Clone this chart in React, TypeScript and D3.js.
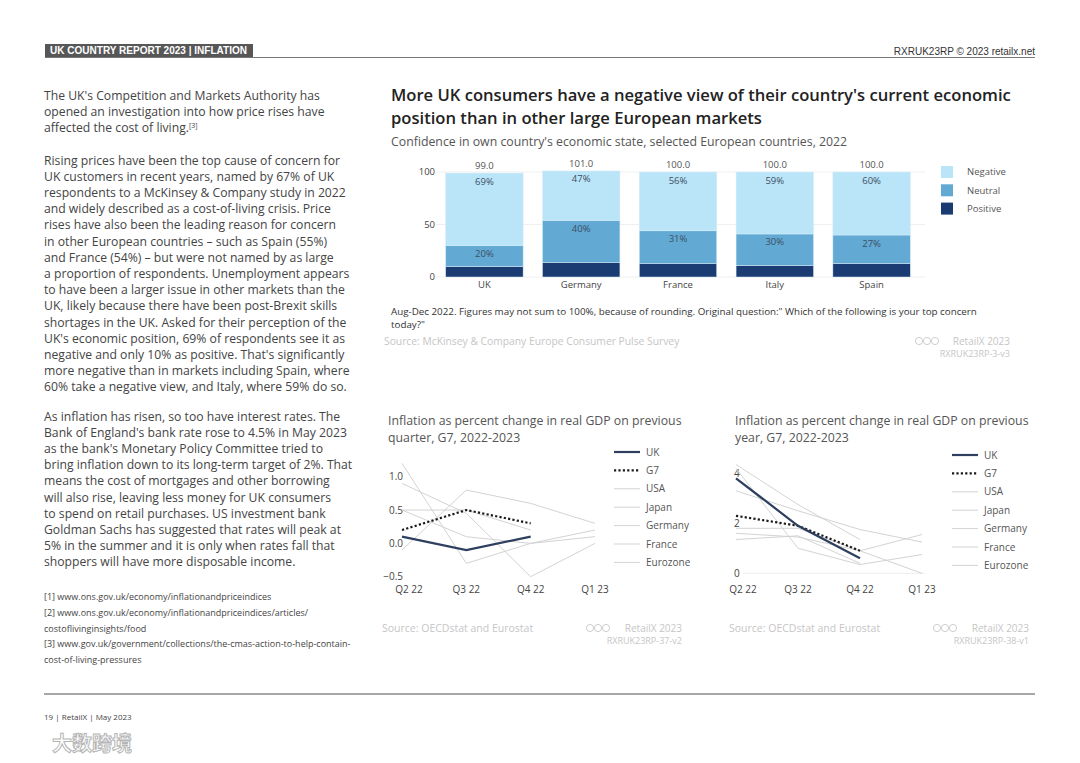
import React from 'react';
import * as d3 from 'd3';

const FONT = "'Open Sans', sans-serif";
const NARROW = "'Liberation Sans Narrow', 'Liberation Sans', sans-serif";

// bar chart: confidence in own country's economic state
const countries = ['UK', 'Germany', 'France', 'Italy', 'Spain'];
const positiveShare = [10, 14, 13, 11, 13];
const neutralShare = [20, 40, 31, 30, 27];
const negativeShare = [69, 47, 56, 59, 60];
const totalShare = [99.0, 101.0, 100.0, 100.0, 100.0];
const barTicks = [0, 50, 100];
const barKeys = ['positive', 'neutral', 'negative'];
const barColors: Record<string, string> = { negative: '#bae4f7', neutral: '#62a9d4', positive: '#1b3c72' };
const barLegend = ['Negative', 'Neutral', 'Positive'];

// line charts
const quarters = ['Q2 22', 'Q3 22', 'Q4 22', 'Q1 23'];
const legendNames = ['UK', 'G7', 'USA', 'Japan', 'Germany', 'France', 'Eurozone'];

// change on previous quarter
const qoqUK = [0.1, -0.1, 0.1, null];
const qoqG7 = [0.2, 0.5, 0.3, null];
const qoqUSA = [-0.1, 0.8, 0.6, 0.3];
const qoqJapan = [1.2, -0.3, 0.0, 0.2];
const qoqGermany = [0.9, 0.45, -0.5, 0.0];
const qoqFrance = [0.5, 0.1, 0.0, 0.1];
const qoqEurozone = [0.5, 0.5, 0.2, null];
const qoqTicks = [-0.5, 0, 0.5, 1.0];

// change on previous year
const yoyUK = [3.8, 1.9, 0.6, null];
const yoyG7 = [2.3, 1.9, 0.9, null];
const yoyUSA = [1.8, 1.8, 0.9, 1.55];
const yoyJapan = [1.35, 1.5, 0.4, null];
const yoyGermany = [1.6, 1.45, 0.9, 0.0];
const yoyFrance = [4.2, 1.0, 0.35, 0.75];
const yoyEurozone = [3.3, 2.5, 1.75, 1.25];
const yoyOther = [4.35, 2.75, 1.35, null];
const yoyTicks = [0, 2, 4];

const para1 = [
  "The UK's Competition and Markets Authority has",
  'opened an investigation into how price rises have',
];
const para2 = [
  'Rising prices have been the top cause of concern for',
  'UK customers in recent years, named by 67% of UK',
  'respondents to a McKinsey & Company study in 2022',
  'and widely described as a cost-of-living crisis. Price',
  'rises have also been the leading reason for concern',
  'in other European countries – such as Spain (55%)',
  'and France (54%) – but were not named by as large',
  'a proportion of respondents. Unemployment appears',
  'to have been a larger issue in other markets than the',
  'UK, likely because there have been post-Brexit skills',
  'shortages in the UK. Asked for their perception of the',
  "UK's economic position, 69% of respondents see it as",
  "negative and only 10% as positive. That's significantly",
  'more negative than in markets including Spain, where',
  '60% take a negative view, and Italy, where 59% do so.',
];
const para3 = [
  'As inflation has risen, so too have interest rates. The',
  "Bank of England's bank rate rose to 4.5% in May 2023",
  "as the bank's Monetary Policy Committee tried to",
  'bring inflation down to its long-term target of 2%. That',
  'means the cost of mortgages and other borrowing',
  'will also rise, leaving less money for UK consumers',
  'to spend on retail purchases. US investment bank',
  'Goldman Sachs has suggested that rates will peak at',
  '5% in the summer and it is only when rates fall that',
  'shoppers will have more disposable income.',
];
const footnotes = [
  '[1] www.ons.gov.uk/economy/inflationandpriceindices',
  '[2] www.ons.gov.uk/economy/inflationandpriceindices/articles/',
  'costoflivinginsights/food',
  '[3] www.gov.uk/government/collections/the-cmas-action-to-help-contain-',
  'cost-of-living-pressures',
];

type Series = { name: string; values: (number | null)[] };

function CcIcons({ x, y }: { x: number; y: number }) {
  return (
    <g fill="none" stroke="#c8c8c8" strokeWidth={0.9}>
      {[0, 1, 2].map(i => (
        <circle key={i} cx={x + i * 8} cy={y} r={3.6} />
      ))}
    </g>
  );
}

function LineChart(props: {
  title: string[];
  titleX: number;
  series: Series[];
  uk: (number | null)[];
  g7: (number | null)[];
  xRange: [number, number];
  yDomain: [number, number];
  yRange: [number, number];
  ticks: number[];
  tickFmt: (v: number) => string;
  tickX: number;
  tickAnchor: 'start' | 'end';
  zeroLine: boolean;
  legendX: number;
  legendY: number;
  sourceX: number;
  creditX: number;
  code: string;
}) {
  const x = d3.scalePoint<string>().domain(quarters).range(props.xRange);
  const y = d3.scaleLinear().domain(props.yDomain).range(props.yRange);
  const line = d3
    .line<number | null>()
    .defined(d => d != null)
    .x((_, i) => x(quarters[i]) as number)
    .y(d => y(d as number));
  const left = props.xRange[0];
  return (
    <g fontFamily={FONT}>
      {props.title.map((t, i) => (
        <text key={i} x={props.titleX} y={425 + i * 17} fontSize={12.3} fill="#555">{t}</text>
      ))}
      {props.zeroLine && (
        <line x1={left + 7} x2={props.xRange[1] + 3} y1={y(0)} y2={y(0)} stroke="#eeeeee" />
      )}
      {props.ticks.map(t => (
        <text key={t} x={props.tickX} y={y(t)} dy="0.35em" fontSize={10} fill="#444" textAnchor={props.tickAnchor}>
          {props.tickFmt(t)}
        </text>
      ))}
      {quarters.map(q => (
        <text key={q} x={Math.max(x(q) as number, left + 7)} y={593} fontSize={10} fill="#444" textAnchor="middle">{q}</text>
      ))}
      {props.series.map(s => (
        <path key={s.name} d={line(s.values) || ''} fill="none" stroke="#d3d3d3" strokeWidth={1} />
      ))}
      <path d={line(props.g7) || ''} fill="none" stroke="#1a1a1a" strokeWidth={2.2} strokeDasharray="2.2 2.2" />
      <path d={line(props.uk) || ''} fill="none" stroke="#2e3f5f" strokeWidth={2.2} />
      {legendNames.map((n, i) => {
        const ly = props.legendY + i * 18.4;
        const style = i === 0
          ? { stroke: '#2e3f5f', strokeWidth: 2.2 }
          : i === 1
            ? { stroke: '#1a1a1a', strokeWidth: 2.2, strokeDasharray: '2.2 2.2' }
            : { stroke: '#d3d3d3', strokeWidth: 1 };
        return (
          <g key={n}>
            <line x1={props.legendX} x2={props.legendX + 26} y1={ly} y2={ly} {...style} />
            <text x={props.legendX + 32} y={ly} dy="0.35em" fontSize={10} fill="#555">{n}</text>
          </g>
        );
      })}
      <text x={props.sourceX} y={632} fontSize={10.5} fill="#c6c6c6">Source: OECDstat and Eurostat</text>
      <CcIcons x={props.creditX - 92} y={628} />
      <text x={props.creditX} y={632} fontSize={10} fill="#c6c6c6" textAnchor="end">RetailX 2023</text>
      <text x={props.creditX} y={644} fontSize={9} fill="#c6c6c6" textAnchor="end">{props.code}</text>
    </g>
  );
}

function BarChart() {
  const x = d3.scaleBand<string>().domain(countries).range([436, 920]).paddingInner(0.2).paddingOuter(0.1);
  const y = d3.scaleLinear().domain([0, 100]).range([277, 172]);
  const rows = countries.map((c, i) => ({
    country: c,
    positive: positiveShare[i],
    neutral: neutralShare[i],
    negative: negativeShare[i],
  }));
  const stacked = d3.stack<any>().keys(barKeys)(rows);
  return (
    <g fontFamily={FONT}>
      {barTicks.map(t => (
        <g key={t}>
          <line x1={436} x2={925} y1={y(t)} y2={y(t)} stroke="#efefef" />
          <text x={435} y={y(t)} dy="0.35em" fontSize={9.5} fill="#444" textAnchor="end">{t}</text>
        </g>
      ))}
      {stacked.map(layer => (
        <g key={layer.key} fill={barColors[layer.key]}>
          {layer.map((d, i) => (
            <rect
              key={i}
              x={x(countries[i])}
              width={x.bandwidth()}
              y={y(d[1])}
              height={y(d[0]) - y(d[1])}
              stroke="#d6edf9"
              strokeWidth={0.5}
            />
          ))}
        </g>
      ))}
      {stacked.filter(l => l.key !== 'positive').map(layer => (
        <g key={layer.key + 'lbl'}>
          {layer.map((d, i) => (
            <text key={i} x={(x(countries[i]) as number) + x.bandwidth() / 2} y={y(d[1]) + 11.5}
              fontSize={9.5} fill="#3d4f63" textAnchor="middle">
              {`${d[1] - d[0]}%`}
            </text>
          ))}
        </g>
      ))}
      {countries.map((c, i) => (
        <g key={c}>
          <text x={(x(c) as number) + x.bandwidth() / 2} y={y(totalShare[i]) - 4} fontSize={9.5} fill="#555" textAnchor="middle">
            {totalShare[i].toFixed(1)}
          </text>
          <text x={(x(c) as number) + x.bandwidth() / 2} y={288} fontSize={9.5} fill="#444" textAnchor="middle">{c}</text>
        </g>
      ))}
      {barLegend.map((n, i) => (
        <g key={n}>
          <rect x={941} y={166 + i * 18.3} width={12} height={12} fill={barColors[n.toLowerCase()]} />
          <text x={967} y={172 + i * 18.3} dy="0.35em" fontSize={9.5} fill="#555">{n}</text>
        </g>
      ))}
    </g>
  );
}

export default function App() {
  const qoqSeries: Series[] = [
    { name: 'USA', values: qoqUSA },
    { name: 'Japan', values: qoqJapan },
    { name: 'Germany', values: qoqGermany },
    { name: 'France', values: qoqFrance },
    { name: 'Eurozone', values: qoqEurozone },
  ];
  const yoySeries: Series[] = [
    { name: 'USA', values: yoyUSA },
    { name: 'Japan', values: yoyJapan },
    { name: 'Germany', values: yoyGermany },
    { name: 'France', values: yoyFrance },
    { name: 'Eurozone', values: yoyEurozone },
    { name: 'Other', values: yoyOther },
  ];
  const lh = 16.2;
  return (
    <div style={{ position: 'absolute', left: 0, top: 0 }}>
      <svg width={1080} height={763} style={{ display: 'block', background: '#fff' }}>
        {/* header */}
        <rect x={45} y={44} width={208} height={13} fill="#575757" />
        <text x={50} y={54.3} fontFamily={NARROW} fontWeight={700} fontSize={10.5} fill="#fff" textLength={197} lengthAdjust="spacingAndGlyphs">
          UK COUNTRY REPORT 2023 | INFLATION
        </text>
        <line x1={45} x2={1035} y1={57.5} y2={57.5} stroke="#777" strokeWidth={1} />
        <text x={1035} y={54.5} fontFamily={NARROW} fontSize={10} fill="#333" textAnchor="end">RXRUK23RP © 2023 retailx.net</text>

        {/* left column */}
        <g fontFamily={FONT} fontSize={12.2} fill="#444">
          {para1.map((l, i) => (
            <text key={i} x={44} y={100 + i * lh}>{l}</text>
          ))}
          <text x={44} y={100 + 2 * lh}>
            affected the cost of living.<tspan fontSize={7} dy={-4.5}>[3]</tspan>
          </text>
          {para2.map((l, i) => (
            <text key={i} x={44} y={164.5 + i * lh}>{l}</text>
          ))}
          {para3.map((l, i) => (
            <text key={i} x={44} y={420.5 + i * lh}>{l}</text>
          ))}
        </g>
        <g fontFamily={FONT} fontSize={9} fill="#444">
          {footnotes.map((l, i) => (
            <text key={i} x={44} y={600 + i * 15.8}>{l}</text>
          ))}
        </g>
        <line x1={44} x2={1035} y1={694} y2={694} stroke="#8a8a8a" strokeWidth={1.5} />
        <text x={44} y={720} fontFamily={FONT} fontSize={8} fill="#444">19 | RetailX | May 2023</text>
        <text x={52} y={751} fontFamily="'Noto Sans CJK SC', sans-serif" fontWeight={700} fontSize={20} fill="#fff" stroke="#b5b5b5" strokeWidth={1}>
          大数跨境
        </text>

        {/* bar chart */}
        <g fontFamily={FONT}>
          <text x={391} y={101} fontSize={16.6} fontWeight={600} fill="#222">
            More UK consumers have a negative view of their country's current economic
          </text>
          <text x={391} y={124} fontSize={16.6} fontWeight={600} fill="#222">
            position than in other large European markets
          </text>
          <text x={391} y={146} fontSize={12.3} fill="#555">
            Confidence in own country's economic state, selected European countries, 2022
          </text>
        </g>
        <BarChart />
        <g fontFamily={FONT}>
          <text x={391} y={315} fontSize={9.8} fill="#333">
            Aug-Dec 2022. Figures may not sum to 100%, because of rounding. Original question:" Which of the following is your top concern
          </text>
          <text x={391} y={328} fontSize={9.8} fill="#333">today?"</text>
          <text x={384} y={345} fontSize={10.3} fill="#c6c6c6">Source: McKinsey &amp; Company Europe Consumer Pulse Survey</text>
          <CcIcons x={919} y={341} />
          <text x={1010} y={345} fontSize={10} fill="#c6c6c6" textAnchor="end">RetailX 2023</text>
          <text x={1010} y={357} fontSize={9} fill="#c6c6c6" textAnchor="end">RXRUK23RP-3-v3</text>
        </g>

        <LineChart
          title={['Inflation as percent change in real GDP on previous', 'quarter, G7, 2022-2023']}
          titleX={388}
          series={qoqSeries}
          uk={qoqUK}
          g7={qoqG7}
          xRange={[402, 595]}
          yDomain={[-0.5, 1.0]}
          yRange={[576.7, 476.7]}
          ticks={qoqTicks}
          tickFmt={v => (v < 0 ? '−' : '') + Math.abs(v).toFixed(1)}
          tickX={403}
          tickAnchor="end"
          zeroLine={false}
          legendX={614}
          legendY={452}
          sourceX={382}
          creditX={682}
          code="RXRUK23RP-37-v2"
        />
        <LineChart
          title={['Inflation as percent change in real GDP on previous', 'year, G7, 2022-2023']}
          titleX={735}
          series={yoySeries}
          uk={yoyUK}
          g7={yoyG7}
          xRange={[736, 922]}
          yDomain={[0, 4]}
          yRange={[573.3, 473.3]}
          ticks={yoyTicks}
          tickFmt={v => String(v)}
          tickX={734}
          tickAnchor="start"
          zeroLine={true}
          legendX={952}
          legendY={455}
          sourceX={729}
          creditX={1029}
          code="RXRUK23RP-38-v1"
        />
      </svg>
    </div>
  );
}
